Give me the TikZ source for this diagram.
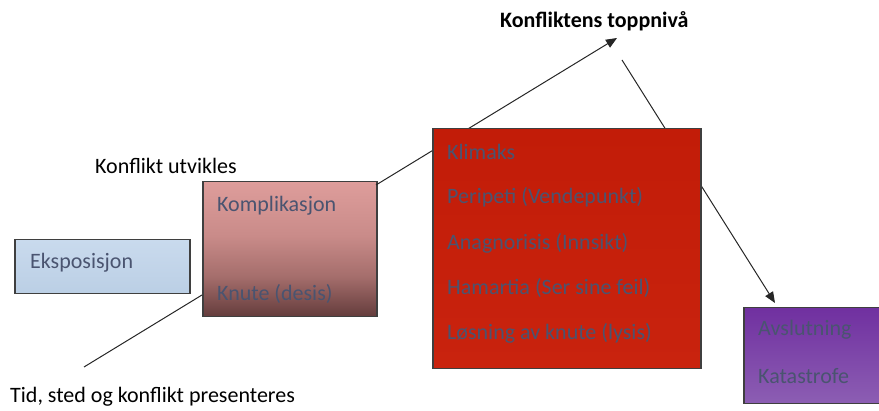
\documentclass[tikz,border=0pt]{standalone}
\usepackage{fontspec}
\setmainfont{Carlito}
\usetikzlibrary{arrows.meta}
\definecolor{boxline}{HTML}{3F3F3F}
\definecolor{boxtxt}{HTML}{4A5470}
\definecolor{blueTop}{HTML}{C9DAED}
\definecolor{blueBot}{HTML}{BBCFE5}
\definecolor{pinkTop}{HTML}{DE9D9B}
\definecolor{pinkMid}{HTML}{C98B89}
\definecolor{pinkLow}{HTML}{A56E6C}
\definecolor{pinkBot}{HTML}{643C3C}
\definecolor{redTop}{HTML}{C21C08}
\definecolor{redBot}{HTML}{C9230E}
\definecolor{purpTop}{HTML}{7030A0}
\definecolor{purpBot}{HTML}{8C5EB3}
\pgfdeclareverticalshading{komplshade}{100bp}{color(0bp)=(pinkBot); color(25bp)=(pinkBot); color(40bp)=(pinkLow); color(55bp)=(pinkMid); color(75bp)=(pinkTop); color(100bp)=(pinkTop)}
\begin{document}
\begin{tikzpicture}[x=1pt,y=-1pt,
  box/.style={draw=boxline, line width=1.5pt, anchor=north west, inner sep=0pt},
  lbl/.style={anchor=west, inner sep=0pt, text=boxtxt, font=\fontsize{22}{26}\selectfont},
  caption/.style={anchor=west, inner sep=0pt, font=\fontsize{22}{26}\selectfont},
  conn/.style={line width=1pt, draw=black!85},
  tip/.style={-{Triangle[length=11pt,width=9pt]}}]
\clip (0,0) rectangle (879,411);
% left part
\node[box, minimum width=175pt, minimum height=54pt, top color=blueTop, bottom color=blueBot] (ekspo) at (14,239) {};
\node[lbl] (ekspotxt) at (30,263) {Eksposisjon};
\node[box, minimum width=174pt, minimum height=135pt, shading=komplshade] (kompl) at (202,181) {};
\node[lbl] (kompltxt) at (217,206) {Komplikasjon};
\node[lbl] (knutetxt) at (217,294) {Knute (desis)};
\node[caption] (utvikles) at (95,166) {Konflikt utvikles};
\node[caption] (tid) at (10,397) {Tid, sted og konflikt presenteres};
\node[caption, font=\fontsize{22}{26}\selectfont\bfseries] (topp) at (500,21) {Konfliktens toppnivå};
% connectors
\coordinate (tidend) at (84,367);
\coordinate (knute) at (202,295);
\coordinate (rise) at (376,185);
\coordinate (peak) at (617,38);
\coordinate (fall) at (622,60);
\coordinate (end) at (775,303);
\draw[conn] (tidend) -- (knute);
\draw[conn, tip] (rise) -- (peak);
\draw[conn, tip] (fall) -- (end);
% climax
\node[box, minimum width=268pt, minimum height=240pt, top color=redTop, bottom color=redBot] (klimaks) at (432,128) {};
\node[lbl] (klimakstxt) at (447,152) {Klimaks};
\node[lbl] (peripeti) at (447,197) {Peripeti (Vendepunkt)};
\node[lbl] (anagnorisis) at (447,243) {Anagnorisis (Innsikt)};
\node[lbl] (hamartia) at (447,288) {Hamartia (Ser sine feil)};
\node[lbl] (lysis) at (447,333) {Løsning av knute (lysis)};
% ending
\node[box, minimum width=160pt, minimum height=96pt, top color=purpTop, bottom color=purpBot] (avslut) at (743,307) {};
\node[lbl] (avsluttxt) at (758,330) {Avslutning};
\node[lbl] (katastrofe) at (758,376) {Katastrofe};
\end{tikzpicture}
\end{document}
